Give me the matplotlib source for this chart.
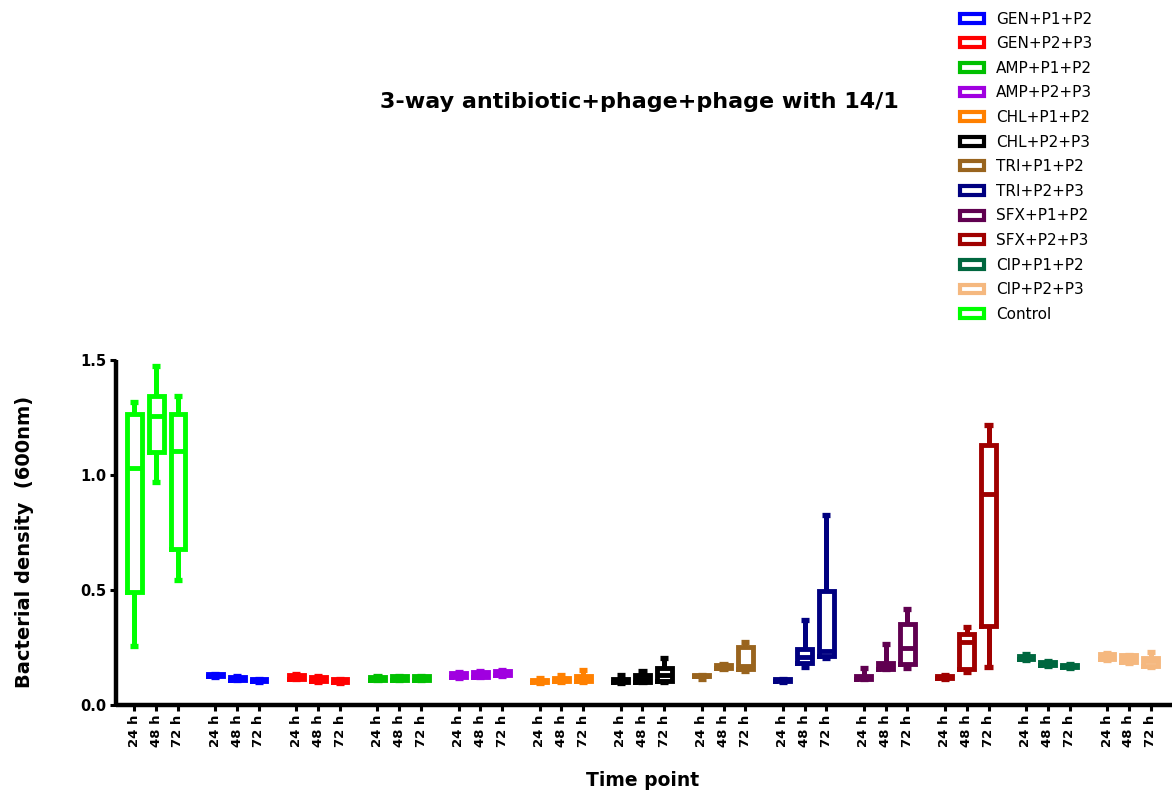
import matplotlib
matplotlib.use("Agg")
import matplotlib.pyplot as plt
from matplotlib.patches import Patch

plt.rcParams['font.family'] = ['DejaVu Sans']

title = "3-way antibiotic+phage+phage with 14/1"
x_label = "Time point"
y_label = "Bacterial density  (600nm)"

groups = ["Control", "GEN+P1+P2", "GEN+P2+P3", "AMP+P1+P2", "AMP+P2+P3",
          "CHL+P1+P2", "CHL+P2+P3", "TRI+P1+P2", "TRI+P2+P3", "SFX+P1+P2",
          "SFX+P2+P3", "CIP+P1+P2", "CIP+P2+P3"]
colors = ["#00FF00", "#0000FF", "#FF0000", "#00C000", "#A000E0",
          "#FF8000", "#000000", "#99641E", "#000080", "#600050",
          "#A00000", "#00673F", "#F5B87F"]
legend_order = ["GEN+P1+P2", "GEN+P2+P3", "AMP+P1+P2", "AMP+P2+P3",
                "CHL+P1+P2", "CHL+P2+P3", "TRI+P1+P2", "TRI+P2+P3",
                "SFX+P1+P2", "SFX+P2+P3", "CIP+P1+P2", "CIP+P2+P3", "Control"]
time_labels = ["24 h", "48 h", "72 h"]

# box statistics per group (24 h, 48 h, 72 h)
whislo = [
    [0.258, 0.971, 0.542],
    [0.123, 0.108, 0.100],
    [0.112, 0.102, 0.097],
    [0.108, 0.108, 0.109],
    [0.118, 0.121, 0.127],
    [0.097, 0.100, 0.100],
    [0.097, 0.098, 0.100],
    [0.112, 0.155, 0.148],
    [0.100, 0.167, 0.205],
    [0.113, 0.158, 0.160],
    [0.113, 0.143, 0.165],
    [0.197, 0.170, 0.162],
    [0.195, 0.183, 0.165],
]
q1 = [
    [0.493, 1.099, 0.677],
    [0.125, 0.110, 0.103],
    [0.113, 0.103, 0.098],
    [0.109, 0.110, 0.110],
    [0.120, 0.123, 0.129],
    [0.099, 0.103, 0.105],
    [0.098, 0.100, 0.105],
    [0.125, 0.159, 0.155],
    [0.106, 0.183, 0.215],
    [0.114, 0.158, 0.180],
    [0.116, 0.158, 0.342],
    [0.200, 0.175, 0.165],
    [0.198, 0.187, 0.171],
]
med = [
    [1.029, 1.258, 1.103],
    [0.129, 0.116, 0.108],
    [0.122, 0.112, 0.105],
    [0.116, 0.118, 0.117],
    [0.129, 0.133, 0.138],
    [0.103, 0.110, 0.118],
    [0.106, 0.114, 0.132],
    [0.127, 0.166, 0.170],
    [0.109, 0.209, 0.235],
    [0.120, 0.170, 0.246],
    [0.122, 0.273, 0.917],
    [0.207, 0.181, 0.170],
    [0.210, 0.203, 0.190],
]
q3 = [
    [1.267, 1.343, 1.267],
    [0.133, 0.122, 0.113],
    [0.130, 0.120, 0.111],
    [0.122, 0.126, 0.125],
    [0.139, 0.143, 0.148],
    [0.107, 0.116, 0.128],
    [0.114, 0.129, 0.160],
    [0.129, 0.173, 0.252],
    [0.112, 0.245, 0.494],
    [0.126, 0.184, 0.353],
    [0.127, 0.307, 1.129],
    [0.213, 0.187, 0.176],
    [0.220, 0.216, 0.204],
]
whishi = [
    [1.319, 1.474, 1.345],
    [0.135, 0.124, 0.115],
    [0.135, 0.124, 0.115],
    [0.125, 0.128, 0.127],
    [0.142, 0.146, 0.151],
    [0.119, 0.131, 0.152],
    [0.130, 0.150, 0.205],
    [0.130, 0.178, 0.274],
    [0.115, 0.370, 0.826],
    [0.162, 0.267, 0.417],
    [0.130, 0.339, 1.216],
    [0.220, 0.192, 0.180],
    [0.228, 0.218, 0.229],
]
y_ticks = [0.0, 0.5, 1.0, 1.5]

GROUP_STEP = 3.717

fig = plt.figure(figsize=(11.72, 7.94), dpi=100)
ax = fig.add_axes([116 / 1172, 89 / 794, 1056 / 1172, 345 / 794])

tick_pos, tick_lab = [], []
for g, name in enumerate(groups):
    c = colors[g]
    stats, pos = [], []
    for k in range(3):
        stats.append(dict(whislo=whislo[g][k], q1=q1[g][k], med=med[g][k],
                          q3=q3[g][k], whishi=whishi[g][k], fliers=[]))
        p = g * GROUP_STEP + k
        pos.append(p)
        tick_pos.append(p)
        tick_lab.append(time_labels[k])
    lw = 3.5
    ax.bxp(stats, positions=pos, widths=0.68, capwidths=0.37, showfliers=False,
           boxprops=dict(color=c, linewidth=lw, solid_joinstyle='miter'),
           whiskerprops=dict(color=c, linewidth=3.6, solid_capstyle='butt'),
           capprops=dict(color=c, linewidth=3.8, solid_capstyle='butt'),
           medianprops=dict(color=c, linewidth=lw, solid_capstyle='butt'),
           manage_ticks=False)

ax.set_xlim(-0.84, 12 * GROUP_STEP + 2 + 0.98)
ax.set_ylim(0, 1.5)
ax.set_xticks(tick_pos)
ax.set_xticklabels(tick_lab, rotation=90, fontsize=9.5, fontweight='bold')
ax.set_yticks(y_ticks)
ax.set_yticklabels([f"{v:.1f}" for v in y_ticks], fontsize=10.5, fontweight='bold')
ax.tick_params(axis='both', length=4, width=2.2, direction='out', pad=3)
for s in ['top', 'right']:
    ax.spines[s].set_visible(False)
for s in ['left', 'bottom']:
    ax.spines[s].set_linewidth(3.2)
    ax.spines[s].set_capstyle('butt')

ax.set_ylabel(y_label, fontsize=14, fontweight='bold')
ax.yaxis.set_label_coords(-0.078, 0.474)
ax.set_xlabel(x_label, fontsize=13.5, fontweight='bold')
ax.xaxis.set_label_coords(0.4986, -0.192)
ax.set_title(title, fontsize=16, fontweight='bold', x=0.496, y=1.725, va='center')

handles = [Patch(facecolor='white', edgecolor=colors[groups.index(n)], linewidth=3)
           for n in legend_order]
fig.legend(handles, legend_order, loc='upper left',
           bbox_to_anchor=(960 / 1172, 1 - 11.5 / 794), frameon=False,
           fontsize=11, borderpad=0, borderaxespad=0,
           handlelength=1.57, handleheight=0.52, handletextpad=0.8,
           labelspacing=0.63)

fig.savefig("out.png", dpi=100)
